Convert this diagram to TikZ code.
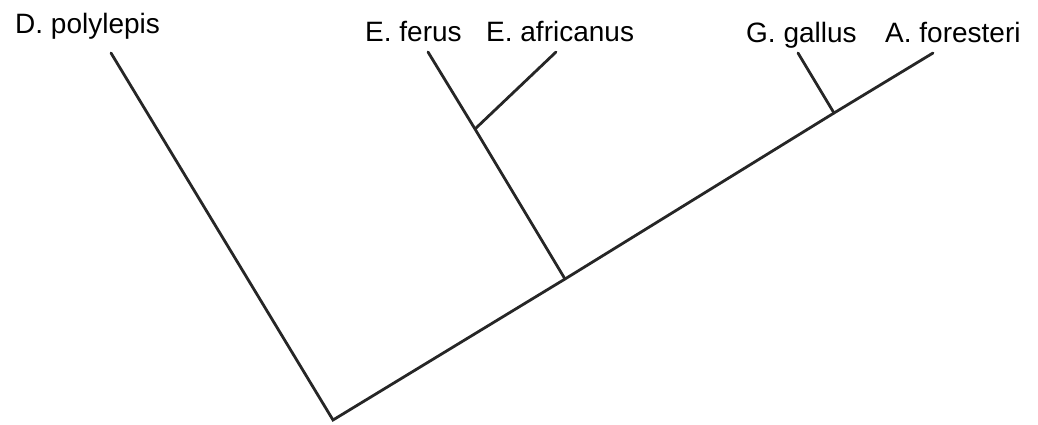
\documentclass[tikz,border=0pt]{standalone}
\usepackage{fontspec}
\setmainfont{Liberation Sans}
\begin{document}
\begin{tikzpicture}[x=1pt,y=-1pt,
  branch/.style={draw=black!85,line width=2.8pt,line cap=round,line join=miter},
  taxon/.style={anchor=base west,inner sep=0pt,font=\fontsize{28}{30}\selectfont}]
\useasboundingbox (0,0) rectangle (1038,424);
% tree points
\coordinate (root) at (333,420);
\coordinate (n1) at (565,279);
\coordinate (n2) at (475,129);
\coordinate (n3) at (834,113);
\coordinate (lD) at (111,53);
\coordinate (lEf) at (428,52);
\coordinate (lEa) at (556,52);
\coordinate (lG) at (798,53);
\coordinate (lA) at (933,53);
% branches
\draw[branch] (lD) -- (root) -- (n1) -- (n3) -- (lA);
\draw[branch] (n1) -- (n2) -- (lEf);
\draw[branch] (n2) -- (lEa);
\draw[branch] (n3) -- (lG);
% labels
\node[taxon] (tD) at (15,33) {D. polylepis};
\node[taxon] (tEf) at (365,41) {E. ferus};
\node[taxon] (tEa) at (486,41) {E. africanus};
\node[taxon] (tG) at (746,42) {G. gallus};
\node[taxon] (tA) at (885,42) {A. foresteri};
\end{tikzpicture}
\end{document}
